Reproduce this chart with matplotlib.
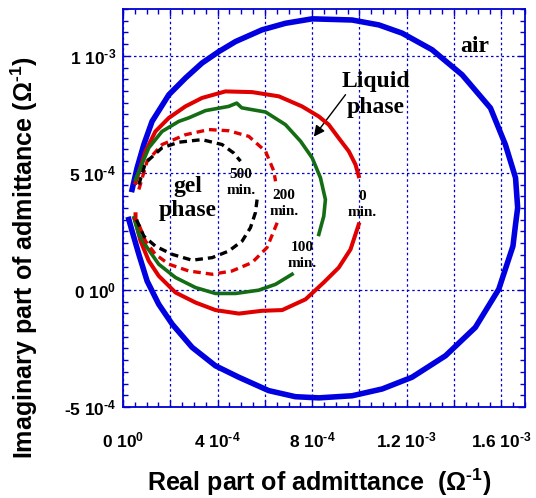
import matplotlib
matplotlib.use('Agg')
import matplotlib.pyplot as plt
import numpy as np
from matplotlib.ticker import MultipleLocator

UNIT = 1e-4  # all values below in units of 1e-4 ohm^-1

# air
air_x = [0.385, 0.596, 0.88, 1.23, 1.94, 2.64, 3.34, 4.05, 4.76, 5.88, 6.87, 8.00, 9.69, 10.82,
         11.80, 13.07, 14.34, 15.54, 16.17, 16.60, 16.69, 16.60, 16.49, 15.89, 14.90, 13.64,
         12.22, 10.96, 9.69, 8.28, 7.29, 6.16, 4.90, 3.91, 2.92, 2.08, 1.51, 1.02, 0.67, 0.385, 0.245]
air_y = [4.29, 5.215, 6.21, 7.20, 8.34, 9.05, 9.69, 10.18, 10.61, 11.11, 11.39, 11.58, 11.53, 11.32,
         10.97, 10.26, 9.19, 7.77, 6.21, 4.79, 3.51, 2.80, 1.87, 0.03, -1.60, -2.81,
         -3.73, -4.23, -4.52, -4.61, -4.56, -4.30, -3.73, -3.24, -2.45, -1.46, -0.61, 0.38, 1.52, 2.51, 3.01]

# 0 min (upper and lower branch)
m0_up_x = [0.53, 0.95, 1.37, 1.94, 2.64, 3.34, 4.33, 5.46, 6.59, 7.57, 8.28, 8.70, 9.12, 9.55, 9.83, 9.97]
m0_up_y = [4.58, 5.92, 6.77, 7.35, 7.84, 8.20, 8.48, 8.45, 8.27, 7.84, 7.41, 7.06, 6.49, 5.92, 5.36, 4.86]
m0_lo_x = [9.97, 9.62, 9.12, 8.49, 7.72, 6.73, 5.88, 4.90, 3.91, 3.07, 2.22, 1.51, 1.09, 0.74, 0.53, 0.53]
m0_lo_y = [2.80, 1.73, 0.95, 0.32, -0.40, -0.86, -0.89, -1.01, -0.86, -0.54, -0.11, 0.60, 1.24, 2.09, 2.94, 3.23]

# 100 min
m100_up_x = [0.53, 1.09, 1.65, 2.36, 2.78, 3.49, 4.47, 4.81, 5.02, 5.46, 6.03, 6.87, 7.51, 8.00, 8.35, 8.56, 8.49, 8.28]
m100_up_y = [4.72, 6.07, 6.77, 7.20, 7.35, 7.66, 7.84, 7.98, 7.78, 7.70, 7.60, 7.06, 6.35, 5.64, 4.79, 3.86, 3.15, 2.37]
m100_lo_x = [7.15, 6.45, 5.74, 4.76, 3.91, 3.07, 2.22, 1.51, 1.02, 0.67, 0.46]
m100_lo_y = [0.67, 0.24, -0.01, -0.15, -0.15, 0.10, 0.53, 1.10, 1.81, 2.37, 3.08]

# 200 min
m200_up_x = [0.67, 1.02, 1.65, 2.64, 3.63, 4.47, 5.32, 6.03, 6.38, 6.45]
m200_up_y = [4.29, 5.50, 6.21, 6.63, 6.85, 6.80, 6.56, 5.92, 5.07, 4.64]
m200_lo_x = [6.52, 6.09, 5.46, 4.61, 3.77, 2.78, 1.94, 1.37, 0.95, 0.67, 0.46]
m200_lo_y = [2.87, 1.81, 1.17, 0.81, 0.67, 0.81, 1.10, 1.52, 2.09, 2.80, 3.08]

# 500 min
m500_up_x = [0.67, 0.95, 1.65, 2.36, 3.34, 4.19, 4.68, 4.97]
m500_up_y = [4.50, 5.43, 6.07, 6.31, 6.42, 6.21, 5.85, 5.50]
m500_lo_x = [5.67, 5.60, 5.39, 5.04, 4.47, 3.77, 2.92, 2.08, 1.37, 0.88, 0.60, 0.53]
m500_lo_y = [3.86, 3.30, 2.66, 2.09, 1.66, 1.38, 1.27, 1.52, 1.87, 2.30, 2.94, 3.15]

xtick_pos = [0, 2, 4, 6, 8, 10, 12, 14, 16]
xtick_labels = ['0 10$^{0}$', '', '4 10$^{‐4}$', '', '8 10$^{‐4}$', '', '1.2 10$^{‐3}$', '', '1.6 10$^{‐3}$']
ytick_pos = [-5, 0, 5, 10]
ytick_labels = ['-5 10$^{‐4}$', '0 10$^{0}$', '5 10$^{‐4}$', '1 10$^{‐3}$']

plt.rcParams['font.family'] = ['Liberation Sans', 'DejaVu Sans']
plt.rcParams['font.weight'] = 'bold'
plt.rcParams['mathtext.fontset'] = 'custom'
plt.rcParams['mathtext.rm'] = 'Liberation Sans:bold'
plt.rcParams['mathtext.it'] = 'Liberation Sans:bold'
plt.rcParams['mathtext.bf'] = 'Liberation Sans:bold'
plt.rcParams['mathtext.default'] = 'rm'

BLUE = '#0000e0'
RED = '#e00000'
GREEN = '#146c14'
FRAME = '#0000d0'

fig = plt.figure(figsize=(5.36, 4.98), dpi=100)
ax = fig.add_axes([123/536, 1 - 407/498, (525 - 123)/536, (407 - 9)/498])

def s(v):
    return np.array(v) * UNIT

ax.plot(s(air_x), s(air_y), color=BLUE, lw=4.0, solid_joinstyle='round', zorder=3)
ax.plot(s(m0_up_x), s(m0_up_y), color=RED, lw=2.9, zorder=4)
ax.plot(s(m0_lo_x), s(m0_lo_y), color=RED, lw=2.9, zorder=4)
ax.plot(s(m100_up_x), s(m100_up_y), color=GREEN, lw=2.6, zorder=5)
ax.plot(s(m100_lo_x), s(m100_lo_y), color=GREEN, lw=2.6, zorder=5)
ax.plot(s(m200_up_x), s(m200_up_y), color=RED, lw=2.4, ls=(0, (2.3, 1.5)), zorder=6)
ax.plot(s(m200_lo_x), s(m200_lo_y), color=RED, lw=2.4, ls=(0, (2.3, 1.5)), zorder=6)
ax.plot(s(m500_up_x), s(m500_up_y), color='black', lw=2.4, ls=(0, (2.3, 1.5)), zorder=7)
ax.plot(s(m500_lo_x), s(m500_lo_y), color='black', lw=2.4, ls=(0, (2.3, 1.5)), zorder=7)

ax.set_xlim(0, 17 * UNIT)
ax.set_ylim(-5 * UNIT, 12 * UNIT)

ax.set_xticks(s(xtick_pos))
ax.set_xticklabels(xtick_labels)
ax.set_yticks(s(ytick_pos))
ax.set_yticklabels(ytick_labels)
ax.xaxis.set_minor_locator(MultipleLocator(0.5 * UNIT))
ax.yaxis.set_minor_locator(MultipleLocator(0.5 * UNIT))

ax.tick_params(which='both', direction='in', top=True, right=True, color=FRAME, width=1.0)
ax.tick_params(which='major', length=5)
ax.tick_params(which='minor', length=3.5)
ax.tick_params(axis='x', which='major', pad=17, labelsize=12.5)
ax.tick_params(axis='y', which='major', pad=5, labelsize=12.5)
for lab in ax.get_xticklabels() + ax.get_yticklabels():
    lab.set_fontweight('bold')

for sp in ax.spines.values():
    sp.set_color(FRAME)
    sp.set_linewidth(1.3)

ax.grid(True, which='major', color=FRAME, lw=0.9, ls=(0, (2, 2.2)))
ax.set_axisbelow(True)

serif = dict(family=['Liberation Serif', 'DejaVu Serif'], fontweight='bold', ha='center', va='center')
ax.text(14.88 * UNIT, 10.38 * UNIT, 'air', fontsize=17, **serif)
ax.text(10.69 * UNIT, 8.34 * UNIT, 'Liquid\nphase', fontsize=17, linespacing=1.3, **serif)
ax.text(2.74 * UNIT, 3.91 * UNIT, 'gel\nphase', fontsize=17, linespacing=1.2, **serif)
ax.text(4.98 * UNIT, 4.59 * UNIT, '500\nmin.', fontsize=11, linespacing=1.25, **serif)
ax.text(6.80 * UNIT, 3.69 * UNIT, '200\nmin.', fontsize=11, linespacing=1.25, **serif)
ax.text(7.56 * UNIT, 1.48 * UNIT, '100\nmin.', fontsize=11, linespacing=1.25, **serif)
ax.text(10.10 * UNIT, 3.65 * UNIT, '0\nmin.', fontsize=11, linespacing=1.25, **serif)
ax.annotate('', xy=(8.07 * UNIT, 6.55 * UNIT), xytext=(9.41 * UNIT, 8.34 * UNIT),
            arrowprops=dict(arrowstyle='-|>', color='black', lw=1.0, mutation_scale=16,
                            shrinkA=0, shrinkB=0))

fig.text(24/536, 1 - 258/498, 'Imaginary part of admittance (Ω$^{‐1}$)', rotation=90,
         ha='center', va='center', fontsize=18, fontweight='bold')
fig.text(319/536, 1 - 491/498, 'Real part of admittance  (Ω$^{‐1}$)',
         ha='center', va='baseline', fontsize=18, fontweight='bold')

fig.savefig('out.png', dpi=100, facecolor='white')
